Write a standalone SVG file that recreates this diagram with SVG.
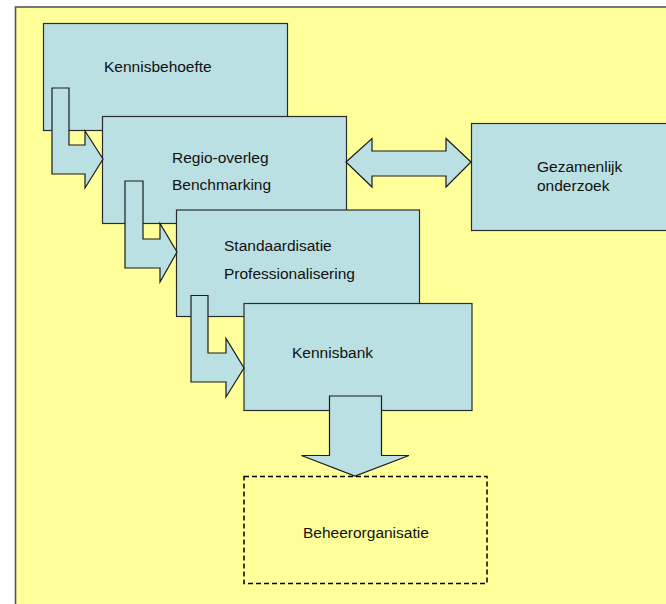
<svg xmlns="http://www.w3.org/2000/svg" width="666" height="604" viewBox="0 0 666 604">
<style>
.box{fill:#BBE0E3;stroke:#2b2b2b;stroke-width:1.2}
.arr{fill:#BBE0E3;stroke:#1a1a1a;stroke-width:1.2;stroke-linejoin:miter}
.dash{fill:none;stroke:#000;stroke-width:1.5;stroke-dasharray:5,3}
text{font-family:"Liberation Sans",Arial,sans-serif;font-size:15.5px;fill:#111}
</style>
<rect x="15.5" y="7" width="700" height="650" fill="#FFFF99" stroke="#555" stroke-width="1.6"/>
<g id="kennisbehoefte">
<rect class="box" x="43.5" y="23.5" width="244" height="107"/>
<text x="104" y="72">Kennisbehoefte</text>
</g>
<g id="regio-overleg">
<rect class="box" x="102.5" y="116.5" width="244" height="107"/>
<text x="172" y="163">Regio-overleg</text>
<text x="172" y="190">Benchmarking</text>
</g>
<g id="standaardisatie">
<rect class="box" x="176.5" y="210" width="243" height="106.5"/>
<text x="224" y="251">Standaardisatie</text>
<text x="224" y="279">Professionalisering</text>
</g>
<g id="kennisbank">
<rect class="box" x="244" y="303.5" width="228" height="107"/>
<text x="292" y="358">Kennisbank</text>
</g>
<g id="gezamenlijk">
<rect class="box" x="471.5" y="123.5" width="220" height="107"/>
<text x="537" y="172">Gezamenlijk</text>
<text x="537" y="191">onderzoek</text>
</g>
<g id="beheerorganisatie">
<rect class="dash" x="244" y="476.5" width="243" height="107"/>
<text x="303" y="538">Beheerorganisatie</text>
</g>
<g id="connectors">
<polygon class="arr" points="52,88 69,88 69,145 85,145 85,131 103,159 85,188 85,174 52,174"/>
<polygon class="arr" points="125,181 143,181 143,239 160,239 160,223.5 177,252 160,282 160,268 125,268"/>
<polygon class="arr" points="191,295.5 208,295.5 208,353 226,353 226,338.5 244,368 226,397 226,382 191,382"/>
<polygon class="arr" points="346,162 372,138.5 372,151 446,151 446,138.5 471,162 446,187 446,176 372,176 372,187"/>
<polygon class="arr" points="329.5,396 381.5,396 381.5,455.5 409,455.5 355,476 301.5,455.5 329.5,455.5"/>
</g>
</svg>
